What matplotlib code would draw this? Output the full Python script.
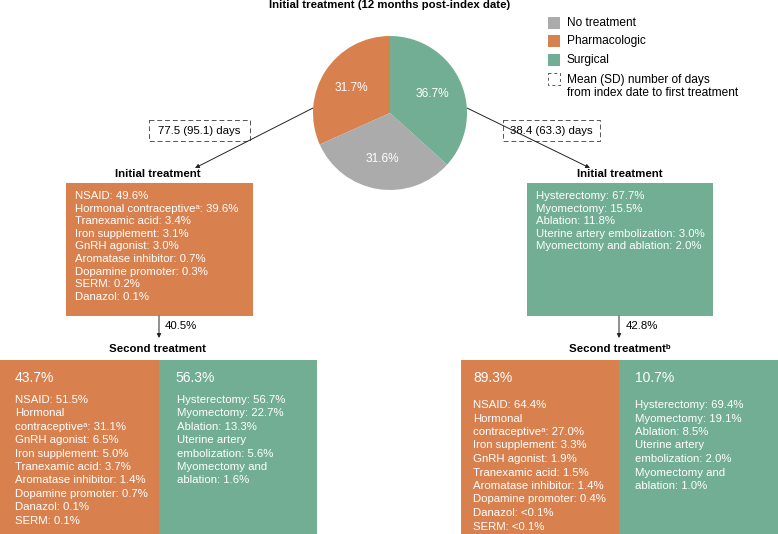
import matplotlib.pyplot as plt
from matplotlib.patches import Rectangle

plt.rcParams['font.family'] = ['Liberation Sans', 'DejaVu Sans']

ORANGE = '#D8814F'
GREEN = '#72AE93'
GRAY = '#ABABAB'

# pie data
pie_labels = ['Pharmacologic', 'No treatment', 'Surgical']
pie_values = [31.7, 31.6, 36.7]
pie_colors = [ORANGE, GRAY, GREEN]
legend_labels = ['No treatment', 'Pharmacologic', 'Surgical']
legend_colors = [GRAY, ORANGE, GREEN]

days_pharm = '77.5 (95.1) days'
days_surg = '38.4 (63.3) days'

init_pharm = ['NSAID: 49.6%', 'Hormonal contraceptive\u1d43: 39.6%', 'Tranexamic acid: 3.4%',
              'Iron supplement: 3.1%', 'GnRH agonist: 3.0%', 'Aromatase inhibitor: 0.7%',
              'Dopamine promoter: 0.3%', 'SERM: 0.2%', 'Danazol: 0.1%']
init_surg = ['Hysterectomy: 67.7%', 'Myomectomy: 15.5%', 'Ablation: 11.8%',
             'Uterine artery embolization: 3.0%', 'Myomectomy and ablation: 2.0%']

second_pct_left = '40.5%'
second_pct_right = '42.8%'

left_pharm_share = '43.7%'
left_pharm = ['NSAID: 51.5%', 'Hormonal', 'contraceptive\u1d43: 31.1%', 'GnRH agonist: 6.5%',
              'Iron supplement: 5.0%', 'Tranexamic acid: 3.7%', 'Aromatase inhibitor: 1.4%',
              'Dopamine promoter: 0.7%', 'Danazol: 0.1%', 'SERM: 0.1%']
left_surg_share = '56.3%'
left_surg = ['Hysterectomy: 56.7%', 'Myomectomy: 22.7%', 'Ablation: 13.3%', 'Uterine artery',
             'embolization: 5.6%', 'Myomectomy and', 'ablation: 1.6%']

right_pharm_share = '89.3%'
right_pharm = ['NSAID: 64.4%', 'Hormonal', 'contraceptive\u1d43: 27.0%', 'Iron supplement: 3.3%',
               'GnRH agonist: 1.9%', 'Tranexamic acid: 1.5%', 'Aromatase inhibitor: 1.4%',
               'Dopamine promoter: 0.4%', 'Danazol: <0.1%', 'SERM: <0.1%']
right_surg_share = '10.7%'
right_surg = ['Hysterectomy: 69.4%', 'Myomectomy: 19.1%', 'Ablation: 8.5%', 'Uterine artery',
              'embolization: 2.0%', 'Myomectomy and', 'ablation: 1.0%']

W, H = 778, 534
fig = plt.figure(figsize=(W / 100, H / 100), dpi=100)
ax = fig.add_axes([0, 0, 1, 1])
ax.set_xlim(0, W)
ax.set_ylim(H, 0)
ax.axis('off')

FS = 8.2
FS_LEG = 8.6
FS_SHARE = 10


def box(x0, y0, x1, y1, color):
    ax.add_patch(Rectangle((x0, y0), x1 - x0, y1 - y0, facecolor=color, edgecolor='none'))


def lines(x, y, items, step):
    for i, s in enumerate(items):
        ax.text(x, y + i * step, s, color='white', fontsize=FS, va='center', ha='left')


def arrow(x0, y0, x1, y1):
    ax.annotate('', xy=(x1, y1), xytext=(x0, y0),
                arrowprops=dict(arrowstyle='-|>', color='#222222', lw=0.7,
                                mutation_scale=6, shrinkA=0, shrinkB=0))


def dashed(x0, y0, x1, y1, label):
    ax.add_patch(Rectangle((x0, y0), x1 - x0, y1 - y0, facecolor='none',
                           edgecolor='#555555', lw=0.7, ls=(0, (5, 3))))
    ax.text((x0 + x1) / 2, (y0 + y1) / 2, label, fontsize=FS, ha='center', va='center')


# title
ax.text(390, 5, 'Initial treatment (12 months post-index date)', fontsize=FS,
        fontweight='bold', ha='center', va='center')

# pie
cx, cy, r = 390, 113, 77
pax = fig.add_axes([(cx - r) / W, (H - cy - r) / H, 2 * r / W, 2 * r / H])
pax.pie(pie_values, colors=pie_colors, startangle=90, counterclock=True,
        autopct='%.1f%%', pctdistance=0.6, radius=1,
        wedgeprops=dict(linewidth=0),
        textprops=dict(color='white', fontsize=8.6))
pax.set_xlim(-1, 1)
pax.set_ylim(-1, 1)
pax.set_aspect('auto')

# legend
for i, (lab, col) in enumerate(zip(legend_labels, legend_colors)):
    yy = 17 + i * 18.3
    ax.add_patch(Rectangle((548, yy), 12, 12, facecolor=col, edgecolor='none'))
    ax.text(567, yy + 6, lab, fontsize=FS_LEG, va='center')
ax.add_patch(Rectangle((548, 73), 12, 12, facecolor='none', edgecolor='#555555',
                       lw=0.7, ls=(0, (3, 3))))
ax.text(567, 80, 'Mean (SD) number of days', fontsize=FS_LEG, va='center')
ax.text(567, 93, 'from index date to first treatment', fontsize=FS_LEG, va='center')

# days boxes and arrows
dashed(149, 120, 250, 141, days_pharm)
dashed(503, 120, 600, 141, days_surg)
arrow(313, 108, 195, 168)
arrow(467, 108, 590, 168)

# initial treatment boxes
ax.text(158, 174, 'Initial treatment', fontsize=FS, fontweight='bold', ha='center', va='center')
ax.text(620, 174, 'Initial treatment', fontsize=FS, fontweight='bold', ha='center', va='center')
box(66, 183, 253, 316, ORANGE)
box(527, 183, 713, 316, GREEN)
lines(75, 196, init_pharm, 12.6)
lines(536, 196, init_surg, 12.6)

# down arrows
arrow(159, 316, 159, 338)
ax.text(165, 326, second_pct_left, fontsize=FS, va='center')
arrow(619, 316, 619, 338)
ax.text(626, 326, second_pct_right, fontsize=FS, va='center')

ax.text(158, 349, 'Second treatment', fontsize=FS, fontweight='bold', ha='center', va='center')
ax.text(620, 349, 'Second treatment\u1d47', fontsize=FS, fontweight='bold', ha='center', va='center')

# second treatment boxes
box(0, 360, 159, H, ORANGE)
box(159, 360, 317, H, GREEN)
box(461, 360, 619, H, ORANGE)
box(619, 360, W, H, GREEN)

ax.text(15, 378, left_pharm_share, color='white', fontsize=FS_SHARE, va='center')
lines(15, 400, left_pharm, 13.4)
ax.text(175, 378, left_surg_share, color='white', fontsize=FS_SHARE, va='center')
lines(177, 400, left_surg, 13.4)

ax.text(473, 378, right_pharm_share, color='white', fontsize=FS_SHARE, va='center')
lines(473, 405, right_pharm, 13.5)
ax.text(635, 378, right_surg_share, color='white', fontsize=FS_SHARE, va='center')
lines(635, 405, right_surg, 13.5)

fig.savefig('out.png', dpi=100)
